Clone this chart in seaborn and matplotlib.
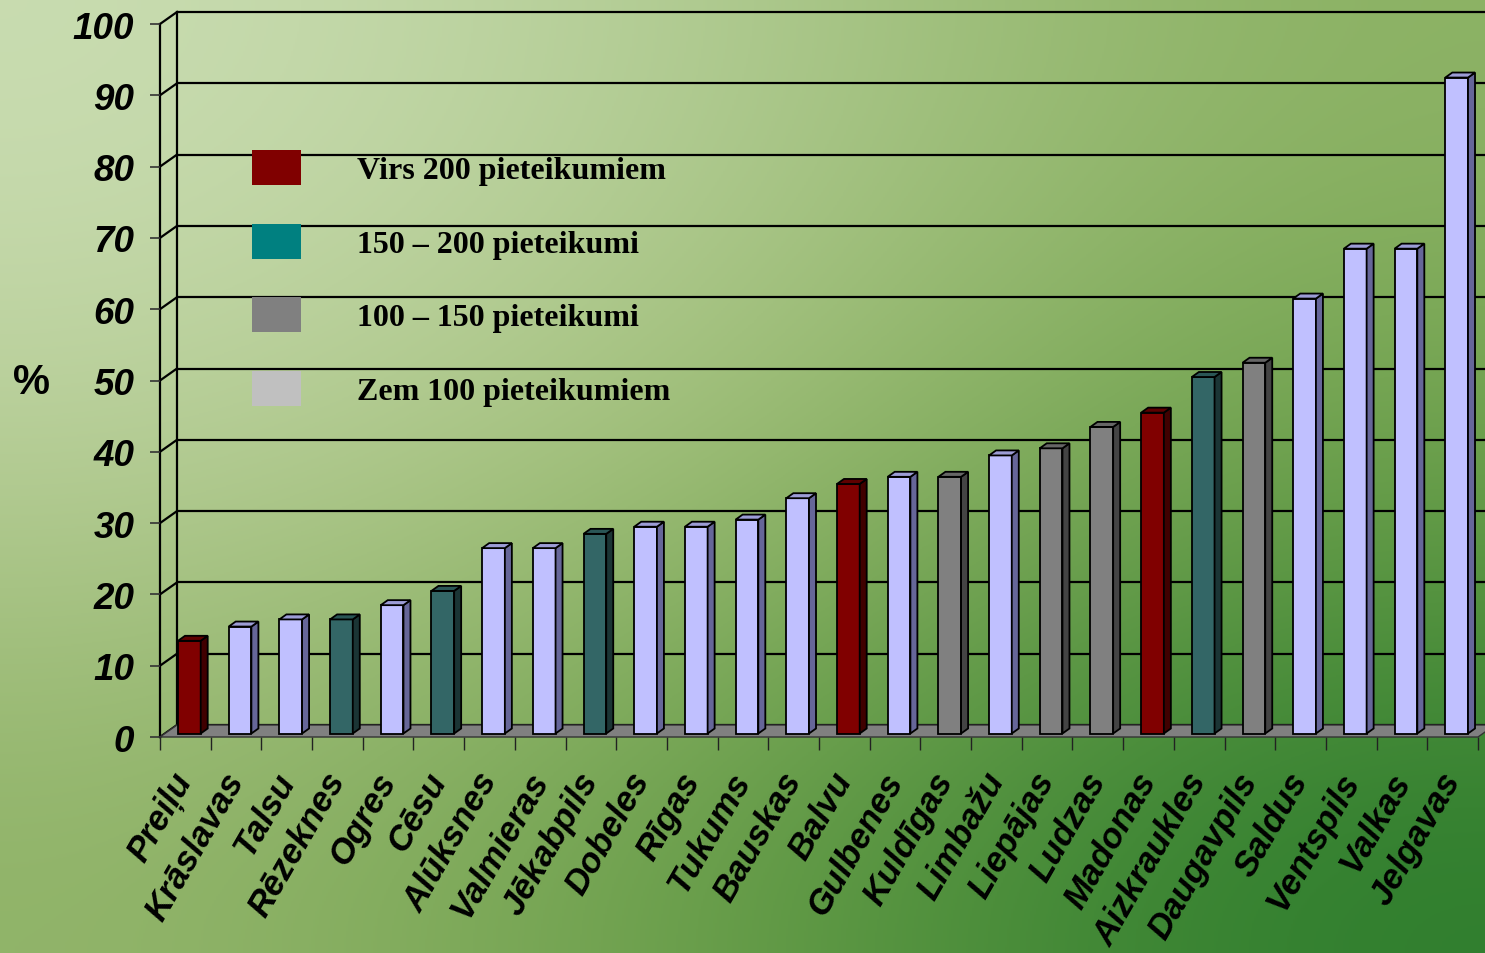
import numpy as np
import pandas as pd
import matplotlib
matplotlib.use("Agg")
import matplotlib.pyplot as plt
import seaborn as sns
from matplotlib.patches import Polygon, Patch

regions = ["Preiļu", "Krāslavas", "Talsu", "Rēzeknes", "Ogres", "Cēsu", "Alūksnes",
           "Valmieras", "Jēkabpils", "Dobeles", "Rīgas", "Tukums", "Bauskas", "Balvu",
           "Gulbenes", "Kuldīgas", "Limbažu", "Liepājas", "Ludzas", "Madonas",
           "Aizkraukles", "Daugavpils", "Saldus", "Ventspils", "Valkas", "Jelgavas"]
percent = [13, 15, 16, 16, 18, 20, 26, 26, 28, 29, 29, 30, 33, 35,
           36, 36, 39, 40, 43, 45, 50, 52, 61, 68, 68, 92]
# 0 = >200, 1 = 150-200, 2 = 100-150, 3 = <100 pieteikumi
group = [0, 3, 3, 1, 3, 1, 3, 3, 1, 3, 3, 3, 3, 0,
         3, 2, 3, 2, 2, 0, 1, 2, 3, 3, 3, 3]
group_labels = ["Virs 200 pieteikumiem", "150 – 200 pieteikumi",
                "100 – 150 pieteikumi", "Zem 100 pieteikumiem"]
legend_colors = ["#800000", "#008080", "#808080", "#C0C0C0"]
bar_front = ["#800000", "#336666", "#808080", "#C0C0FF"]
bar_side = ["#400000", "#1B3535", "#444444", "#666699"]
bar_top = ["#5E0000", "#2A5656", "#666666", "#9C9CD6"]
yticks = list(range(0, 101, 10))

df = pd.DataFrame({"region": regions, "percent": percent, "group": group})

W, H = 1485, 954
fig = plt.figure(figsize=(W / 100, H / 100), dpi=100)

# gradient background
bg = np.array([
    [[202, 221, 178], [175, 202, 144], [140, 178, 100]],
    [[182, 205, 150], [158, 188, 113], [105, 158, 72]],
    [[145, 180, 105], [100, 155, 68], [45, 125, 45]],
]) / 255.0
bg_ax = fig.add_axes([0, 0, 1, 1], zorder=-1)
bg_ax.imshow(bg, extent=[0, 1, 0, 1], aspect="auto", interpolation="bicubic")
bg_ax.axis("off")

# plot area (front plane) in pixels: x 160..1478, y 738..25
ax = fig.add_axes([160 / W, 1 - 738 / H, 1318 / W, 713 / H])
ax.set_facecolor("none")
ax.set_xlim(-0.5, 25.5)
ax.set_ylim(0, 100)

px_x = 1318 / 26.0   # pixels per category
px_y = 713 / 100.0   # pixels per percent
wall_dx, wall_dy = 17 / px_x, 12 / px_y
front_dx, front_dy = 4 / px_x, 3.5 / px_y
depth_dx, depth_dy = 7 / px_x, 5 / px_y

palette = {r: bar_front[g] for r, g in zip(regions, group)}
sns.barplot(data=df, x="region", y="percent", hue="region", palette=palette,
            legend=False, width=0.448, edgecolor="black", linewidth=1.3,
            saturation=1, ax=ax, zorder=4)

for p in list(ax.patches):
    x, w, h = p.get_x(), p.get_width(), p.get_height()
    i = int(round(x + w / 2))
    g = group[i]
    x0, y0 = x + front_dx, front_dy
    p.set_x(x0)
    p.set_y(y0)
    side = Polygon([(x0 + w, y0), (x0 + w + depth_dx, y0 + depth_dy),
                    (x0 + w + depth_dx, y0 + h + depth_dy), (x0 + w, y0 + h)],
                   closed=True, facecolor=bar_side[g], edgecolor="black",
                   linewidth=1.3, zorder=4)
    top = Polygon([(x0, y0 + h), (x0 + w, y0 + h), (x0 + w + depth_dx, y0 + h + depth_dy),
                   (x0 + depth_dx, y0 + h + depth_dy)],
                  closed=True, facecolor=bar_top[g], edgecolor="black",
                  linewidth=1.3, zorder=4)
    ax.add_patch(side)
    ax.add_patch(top)

# floor
floor = Polygon([(-0.5, 0), (25.5, 0), (25.5 + wall_dx, wall_dy), (-0.5 + wall_dx, wall_dy)],
                closed=True, facecolor="#808080", edgecolor="#333333", linewidth=1,
                zorder=2, clip_on=False)
ax.add_patch(floor)

# back wall gridlines and side wall edges
for v in yticks:
    ax.plot([-0.5 + wall_dx, 27], [v + wall_dy] * 2, color="black", lw=1.6,
            zorder=1, clip_on=False, solid_capstyle="butt")
    ax.plot([-0.5, -0.5 + wall_dx], [v, v + wall_dy], color="black", lw=1.6,
            zorder=1, clip_on=False)
ax.plot([-0.5 + wall_dx] * 2, [wall_dy, 100 + wall_dy], color="black", lw=1.6,
        zorder=1, clip_on=False)
ax.plot([-0.5] * 2, [0, 100], color="black", lw=1.6, zorder=1, clip_on=False)

for s in ax.spines.values():
    s.set_visible(False)

ax.set_yticks(yticks)
ax.set_yticklabels([str(v) for v in yticks], fontsize=26.5, fontweight="bold",
                   fontstyle="italic", family="Liberation Sans")
ax.tick_params(axis="y", length=7.5, width=1.2, color="#333333", pad=11)

ax.set_xticks(range(len(regions)))
ax.set_xticklabels(regions, fontsize=25, fontweight="bold", fontstyle="italic",
                   family="Liberation Sans")
ax.set_xticks(np.arange(-0.5, 26, 1), minor=True)
ax.tick_params(axis="x", which="major", length=0, pad=27)
ax.tick_params(axis="x", which="minor", length=9, width=1, color="#222222")
for lbl in ax.get_xticklabels():
    lbl.set_rotation(60)
    lbl.set_ha("right")
    lbl.set_va("center")
    lbl.set_rotation_mode("anchor")
ax.set_xlabel("")
ax.set_ylabel("")

fig.text(31 / W, 1 - 383 / H, "%", fontsize=30, fontweight="bold",
         family="Liberation Sans", ha="center", va="center")

handles = [Patch(facecolor=c, edgecolor="none") for c in legend_colors]
ax.legend(handles=handles, labels=group_labels, loc="upper left",
          bbox_to_anchor=(252 / W, 1 - 151 / H), bbox_transform=fig.transFigure,
          frameon=False, prop={"family": "Liberation Serif", "weight": "bold", "size": 23},
          handlelength=1.54, handleheight=1.31, handletextpad=1.75,
          labelspacing=1.2, borderpad=0, borderaxespad=0)

fig.savefig("out.png", dpi=100)
